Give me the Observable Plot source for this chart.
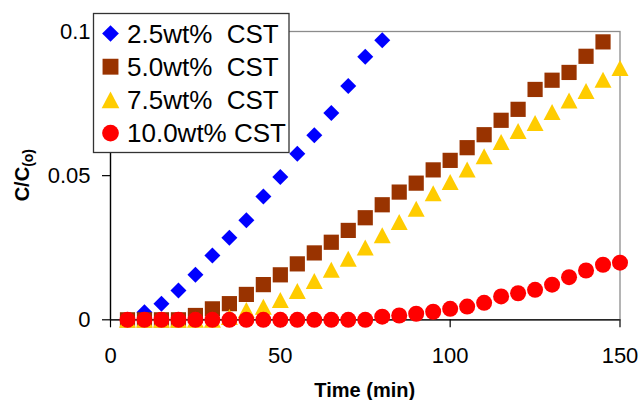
<!DOCTYPE html>
<html><head><meta charset="utf-8">
<script src="https://cdn.jsdelivr.net/npm/d3@7"></script>
<script src="https://cdn.jsdelivr.net/npm/@observablehq/plot@0.6"></script>
<style>
body{margin:0;background:#fff}
#chart svg{display:block}
</style>
</head><body><div id="chart"></div>
<script>
// ---- data ----
const seriesNames = ["2.5wt%  CST", "5.0wt%  CST", "7.5wt%  CST", "10.0wt% CST"];
const seriesColors = ["#0000ff", "#993300", "#ffcc00", "#ff0000"];

const time25 = [5,10,15,20,25,30,35,40,45,50,55,60,65,70,75,80];
const conc25 = [0,0.0026,0.0056,0.0102,0.0156,0.0223,0.0285,0.0345,0.0428,0.0495,0.0576,0.064,0.0717,0.0811,0.0912,0.097];

const time50 = [5,10,15,20,25,30,35,40,45,50,55,60,65,70,75,80,85,90,95,100,105,110,115,120,125,130,135,140,145];
const conc50 = [0,0,0,0,0.0015,0.0038,0.0056,0.0088,0.0122,0.0156,0.0194,0.0232,0.0269,0.031,0.0354,0.0399,0.0443,0.0474,0.052,0.0553,0.0597,0.0642,0.0692,0.073,0.0799,0.0831,0.0858,0.0914,0.0964];

const time75 = [5,10,15,20,25,30,35,40,45,50,55,60,65,70,75,80,85,90,95,100,105,110,115,120,125,130,135,140,145,150];
const conc75 = [0,0,0,0,0,0,0.001,0.0034,0.0045,0.0069,0.01,0.0135,0.0174,0.0212,0.0251,0.0293,0.0339,0.0385,0.0439,0.0478,0.0521,0.0567,0.0617,0.0655,0.0683,0.0721,0.0761,0.0794,0.0833,0.0873];

const time100 = [5,10,15,20,25,30,35,40,45,50,55,60,65,70,75,80,85,90,95,100,105,110,115,120,125,130,135,140,145,150];
const conc100 = [0,0,0,0,0,0,0,0,0,0,0,0,0,0,0,0.0011,0.0015,0.0021,0.0028,0.0038,0.0046,0.0059,0.0081,0.0092,0.0104,0.0122,0.0148,0.0171,0.0191,0.0198];

const xTicks = [0, 50, 100, 150];
const xTickLabels = ["0", "50", "100", "150"];
const yTicks = [0, 0.05, 0.1];
const yTickLabels = ["0", "0.05", "0.1"];
const xTitle = "Time (min)";
const yTitleMain = "C/C";
const yTitleSub = "(o)";

// ---- marker shapes (Excel-like) ----
const diamondSym = {draw(ctx, size){ const r = Math.sqrt(size/Math.PI); ctx.moveTo(0,-r); ctx.lineTo(r,0); ctx.lineTo(0,r); ctx.lineTo(-r,0); ctx.closePath(); }};
const squareSym = {draw(ctx, size){ const r = Math.sqrt(size/Math.PI)*0.95; ctx.rect(-r,-r,2*r,2*r); }};
const triangleSym = {draw(ctx, size){ const r = Math.sqrt(size/Math.PI); ctx.moveTo(0,-r); ctx.lineTo(r*1.06,r); ctx.lineTo(-r*1.06,r); ctx.closePath(); }};
const circleSym = {draw(ctx, size){ const r = Math.sqrt(size/Math.PI); ctx.moveTo(r,0); ctx.arc(0,0,r,0,2*Math.PI); ctx.closePath(); }};
const seriesSymbols = [diamondSym, squareSym, triangleSym, circleSym];

const toRows = (ts, vs) => ts.map((t, i) => ({t, v: vs[i]}));
const seriesData = [toRows(time25, conc25), toRows(time50, conc50), toRows(time75, conc75), toRows(time100, conc100)];

const FONT = "'Liberation Sans', Arial, sans-serif";
const W = 641, H = 400;
const mL = 110, mR = 21.5, mT = 31, mB = 80.7;

const plot = Plot.plot({
  width: W, height: H,
  marginLeft: mL, marginRight: mR, marginTop: mT, marginBottom: mB,
  style: {fontFamily: FONT, background: "#fff", color: "#000", overflow: "visible"},
  x: {domain: [0, 150]},
  y: {domain: [0, 0.1]},
  marks: [
    Plot.frame({stroke: "#8c8c8c", strokeWidth: 1.3}),
    Plot.axisX({ticks: xTicks, tickSize: 8, tickPadding: 19.4, fontSize: 22, label: null,
      tickFormat: (d) => xTickLabels[xTicks.indexOf(d)], strokeWidth: 1.2}),
    Plot.axisY({ticks: yTicks, tickSize: 8, tickPadding: 12, fontSize: 22, label: null,
      tickFormat: (d) => yTickLabels[yTicks.indexOf(d)], strokeWidth: 1.2}),
    Plot.ruleY([0], {stroke: "#000", strokeWidth: 1.3}),
    Plot.ruleX([0], {stroke: "#000", strokeWidth: 1.3}),
    ...seriesData.map((rows, k) => Plot.dot(rows, {x: "t", y: "v", r: 8, symbol: seriesSymbols[k], fill: seriesColors[k], stroke: null}))
  ]
});
document.getElementById("chart").appendChild(plot);

// ---- titles and legend (added into the svg) ----
const svg = d3.select(plot);
svg.append("text")
  .attr("x", mL + (W - mL - mR) / 2).attr("y", 397)
  .attr("text-anchor", "middle").attr("font-family", FONT)
  .attr("font-size", 20).attr("font-weight", "bold").attr("fill", "#000")
  .text(xTitle);

const yt = svg.append("text")
  .attr("transform", `translate(29,${mT + (H - mT - mB) / 2}) rotate(-90)`)
  .attr("text-anchor", "middle").attr("font-family", FONT)
  .attr("font-weight", "bold").attr("fill", "#000");
yt.append("tspan").attr("font-size", 20).text(yTitleMain);
yt.append("tspan").attr("font-size", 14).attr("dy", 4).text(yTitleSub);

const lg = svg.append("g").attr("text-anchor", "start");
lg.append("rect").attr("x", 93.5).attr("y", 13.5).attr("width", 195.5).attr("height", 139)
  .attr("fill", "#fff").attr("stroke", "#333").attr("stroke-width", 1.3);
seriesNames.forEach((name, k) => {
  const cy = 33.5 + k * 33.2;
  lg.append("path").attr("transform", `translate(110.5,${cy})`)
    .attr("d", d3.symbol(seriesSymbols[k], Math.PI * 70)())
    .attr("fill", seriesColors[k]);
  lg.append("text").attr("x", 127).attr("y", cy + 9.3)
    .attr("text-anchor", "start")
    .attr("font-family", FONT).attr("font-size", 26).attr("fill", "#000")
    .style("white-space", "pre").text(name);
});
</script>
</body></html>
